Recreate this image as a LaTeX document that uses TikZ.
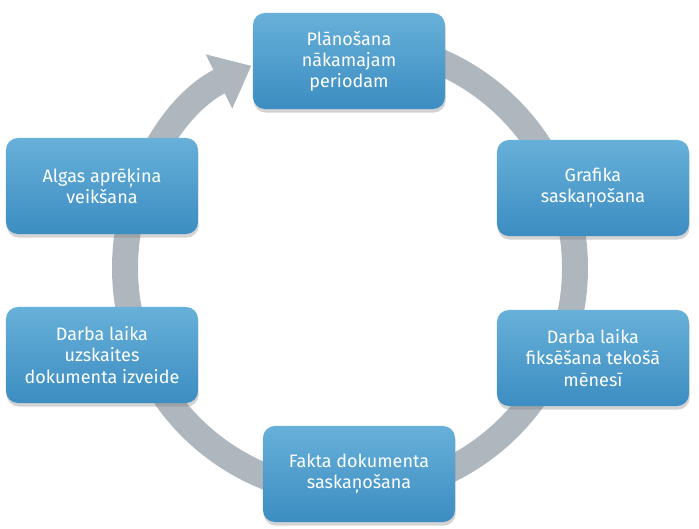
\documentclass[tikz,border=0pt]{standalone}
\usepackage{fontspec}
\setmainfont{Fira Sans}
\usetikzlibrary{arrows.meta, shadows}
\definecolor{boxtop}{HTML}{67B0D9}
\definecolor{boxbot}{HTML}{3C8DC2}
\definecolor{ringgrey}{HTML}{AFB7BE}

\begin{document}
\begin{tikzpicture}[
    x=0.025cm, y=0.025cm,
    every node/.style={font=\fontsize{12.8}{15}\selectfont},
    stage/.style={rounded corners=0.3cm, top color=boxtop, bottom color=boxbot,
                  text=white, align=center, minimum width=4.8cm, minimum height=2.4cm,
                  drop shadow={shadow xshift=0.5pt, shadow yshift=-2.5pt, opacity=0.35}},
    ring/.style={line width=0.65cm, ringgrey, -{Triangle[length=0.9cm, width=1.45cm]}},
]
\useasboundingbox (0,0) rectangle (699,528);
% --- the grey cycle arrow behind the stages ---
\coordinate (c) at (350,260);
\draw[ring] ([shift={(90:225)}]c) arc[start angle=90, end angle=-244, radius=225];

% --- the six stages, clockwise from the top ---
\node[stage] (plan)  at (349,467) {Plānošana\\nākamajam\\periodam};
\node[stage] (graf)  at (593,340) {Grafika\\saskaņošana};
\node[stage] (fiks)  at (593,170) {Darba laika\\fiksēšana tekošā\\mēnesī};
\node[stage] (fakt)  at (359,54)  {Fakta dokumenta\\saskaņošana};
\node[stage] (uzsk)  at (102,173) {Darba laika\\uzskaites\\dokumenta izveide};
\node[stage] (algas) at (102,342) {Algas aprēķina\\veikšana};
\end{tikzpicture}
\end{document}
